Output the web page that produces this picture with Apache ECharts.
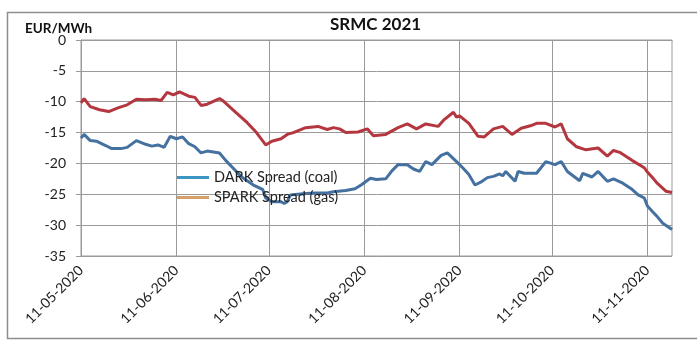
<!DOCTYPE html>
<html>
<head>
<meta charset="utf-8">
<script src="https://cdn.jsdelivr.net/npm/echarts@6/dist/echarts.min.js"></script>
<style>html,body{margin:0;padding:0;background:#fff;}#c{width:697px;height:342px;}</style>
</head>
<body>
<div id="c"></div>
<script>
// ---- data ----
var startDate = '2020-05-11';
var endDate = '2020-11-19';
var yTicks = [-35, -30, -25, -20, -15, -10, -5, 0];

var darkDates = ['05-11','05-12','05-14','05-16','05-19','05-21','05-24','05-26','05-29','06-01','06-03','06-05','06-07','06-09','06-11','06-13','06-15','06-17','06-19','06-21','06-25','06-27','07-01','07-03','07-06','07-09','07-10','07-12','07-15','07-16','07-17','07-18','07-22','07-26','07-30','08-01','08-05','08-08','08-10','08-13','08-15','08-18','08-20','08-22','08-25','08-27','08-29','08-31','09-02','09-05','09-07','09-10','09-12','09-14','09-16','09-18','09-20','09-22','09-24','09-25','09-26','09-29','09-30','10-02','10-06','10-09','10-12','10-14','10-16','10-20','10-21','10-24','10-26','10-29','10-31','11-03','11-06','11-08','11-10','11-11','11-13','11-14','11-16','11-19'];
var darkValues = [-15.9,-15.3,-16.3,-16.4,-17.1,-17.6,-17.6,-17.4,-16.3,-16.9,-17.2,-17.0,-17.4,-15.6,-16.0,-15.7,-16.8,-17.3,-18.3,-18.0,-18.3,-19.5,-21.6,-22.5,-23.5,-24.2,-25.6,-26.2,-26.2,-26.5,-26.2,-25.1,-24.9,-24.8,-24.8,-24.6,-24.4,-24.1,-23.5,-22.4,-22.6,-22.5,-21.2,-20.2,-20.2,-20.9,-21.3,-19.7,-20.2,-18.7,-18.3,-19.7,-20.7,-21.8,-23.5,-23.0,-22.3,-22.1,-21.7,-22.0,-21.3,-22.9,-21.3,-21.6,-21.6,-19.7,-20.2,-19.7,-21.3,-22.8,-21.6,-22.2,-21.3,-22.9,-22.5,-23.2,-24.2,-25.1,-25.6,-26.9,-28.0,-28.5,-29.7,-30.7];

var sparkDates = ['05-11','05-12','05-14','05-17','05-20','05-23','05-26','05-29','06-01','06-04','06-06','06-08','06-10','06-12','06-15','06-17','06-19','06-21','06-25','06-26','06-30','07-04','07-07','07-10','07-12','07-15','07-17','07-19','07-23','07-27','07-30','08-01','08-03','08-05','08-09','08-12','08-14','08-18','08-22','08-25','08-28','08-31','09-04','09-06','09-09','09-10','09-11','09-14','09-17','09-19','09-22','09-25','09-28','10-01','10-04','10-06','10-09','10-12','10-14','10-16','10-19','10-22','10-26','10-29','10-31','11-02','11-06','11-10','11-11','11-13','11-14','11-17','11-19'];
var sparkValues = [-10.2,-9.5,-10.8,-11.3,-11.6,-11.0,-10.5,-9.6,-9.7,-9.6,-9.8,-8.5,-8.9,-8.4,-9.1,-9.3,-10.6,-10.4,-9.5,-9.8,-11.6,-13.4,-15.0,-17.0,-16.4,-16.0,-15.3,-15.0,-14.2,-14.0,-14.5,-14.2,-14.4,-15.0,-14.9,-14.4,-15.5,-15.3,-14.2,-13.6,-14.4,-13.6,-14.0,-12.9,-11.7,-12.5,-12.3,-13.5,-15.6,-15.7,-14.4,-14.0,-15.3,-14.3,-13.9,-13.5,-13.5,-14.1,-13.6,-16.0,-17.3,-17.8,-17.5,-18.8,-17.9,-18.2,-19.5,-20.7,-21.4,-22.5,-23.1,-24.5,-24.7];

// ---- build daily categories (DD-MM-YYYY) ----
function pad(n){ return (n < 10 ? '0' : '') + n; }
var categories = [];
(function(){
  var d = new Date(startDate + 'T12:00:00Z');
  var e = new Date(endDate + 'T12:00:00Z');
  while (d <= e) {
    categories.push(pad(d.getUTCDate()) + '-' + pad(d.getUTCMonth() + 1) + '-' + d.getUTCFullYear());
    d = new Date(d.getTime() + 86400000);
  }
})();
function toCat(md){ var p = md.split('-'); return p[1] + '-' + p[0] + '-2020'; }
function pairs(dates, vals){ return dates.map(function(md, i){ return [toCat(md), vals[i]]; }); }
function isEleventh(idx, val){ return val.substr(0, 2) === '11'; }

var FONT = 'Lato, "Open Sans", sans-serif';
var chart = echarts.init(document.getElementById('c'), null, {renderer: 'canvas'});
chart.setOption({
  backgroundColor: '#ffffff',
  animation: false,
  grid: {left: 81, top: 40, right: 25, bottom: 86, show: true, borderColor: '#9a9a9a', borderWidth: 1, containLabel: false},
  graphic: [
    {type: 'rect', shape: {x: 7.5, y: 12.5, width: 720, height: 326}, style: {fill: 'none', stroke: '#8e8e8e', lineWidth: 1.5}, silent: true, z: -1},
    {type: 'text', left: 25, top: 22, style: {text: 'EUR/MWh', font: 'bold 13.5px ' + FONT, fill: '#111'}, z: 10},
    {type: 'text', left: 330, top: 16, style: {text: 'SRMC 2021', font: 'bold 17px ' + FONT, fill: '#111'}, z: 10}
  ],
  legend: {
    orient: 'vertical', left: 172, top: 165, itemWidth: 32, itemHeight: 3, itemGap: 5, icon: 'rect',
    textStyle: {fontFamily: FONT, fontSize: 14.5, color: '#222', lineHeight: 15},
    data: [
      {name: 'DARK Spread (coal)', itemStyle: {color: '#3c95c3'}},
      {name: 'SPARK Spread (gas)', itemStyle: {color: '#d6a06a'}}
    ]
  },
  xAxis: {
    type: 'category', data: categories, boundaryGap: false,
    axisLine: {show: true, lineStyle: {color: '#9a9a9a', width: 1}},
    axisTick: {show: true, inside: false, length: 5, interval: isEleventh, lineStyle: {color: '#9a9a9a'}},
    splitLine: {show: true, interval: isEleventh, lineStyle: {color: '#9a9a9a', width: 1}},
    axisLabel: {interval: isEleventh, rotate: 45, margin: 12, fontFamily: FONT, fontSize: 14, color: '#222'}
  },
  yAxis: {
    type: 'value', min: yTicks[0], max: yTicks[yTicks.length - 1], interval: 5,
    axisLine: {show: true, lineStyle: {color: '#9a9a9a', width: 1}},
    axisTick: {show: true, inside: false, length: 5, lineStyle: {color: '#9a9a9a'}},
    splitLine: {show: true, lineStyle: {color: '#9a9a9a', width: 1}},
    axisLabel: {margin: 15, fontFamily: FONT, fontSize: 14, color: '#222'}
  },
  series: [
    {name: 'DARK Spread (coal)', type: 'line', data: pairs(darkDates, darkValues), showSymbol: false, symbol: 'none',
     lineStyle: {color: '#44719f', width: 3}, itemStyle: {color: '#44719f'}, z: 3},
    {name: 'SPARK Spread (gas)', type: 'line', data: pairs(sparkDates, sparkValues), showSymbol: false, symbol: 'none',
     lineStyle: {color: '#b4373f', width: 3}, itemStyle: {color: '#b4373f'}, z: 2}
  ]
});
</script>
</body>
</html>
